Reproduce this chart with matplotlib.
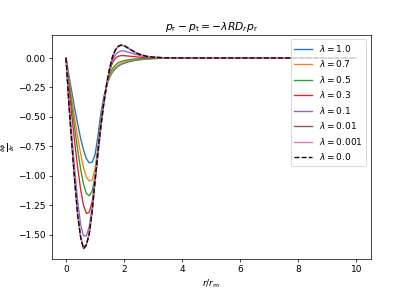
import numpy as np
import matplotlib
matplotlib.use("Agg")
import matplotlib.pyplot as plt

# r / r_m sample points (shared by every curve)
r = [0, 0.1, 0.2, 0.3, 0.4, 0.5, 0.6, 0.7, 0.8, 0.9, 1.0, 1.1, 1.2, 1.3, 1.4,
     1.5, 1.6, 1.7, 1.8, 1.9, 2.0, 2.2, 2.4, 2.6, 2.8, 3.0, 3.3, 3.6, 4.0,
     4.5, 5, 6, 7, 8, 9, 10]

lambdas = ['1.0', '0.7', '0.5', '0.3', '0.1', '0.01', '0.001']

d_10 = [0, -0.15, -0.29, -0.43, -0.56, -0.68, -0.78, -0.855, -0.89, -0.885,
        -0.82, -0.66, -0.47, -0.33, -0.23, -0.165, -0.12, -0.09, -0.07,
        -0.055, -0.045, -0.03, -0.02, -0.014, -0.009, -0.006, -0.003, -0.002,
        -0.001, 0, 0, 0, 0, 0, 0, 0]
d_07 = [0, -0.18, -0.35, -0.52, -0.67, -0.81, -0.93, -1.01, -1.045, -1.035,
        -0.94, -0.74, -0.53, -0.36, -0.24, -0.16, -0.11, -0.08, -0.06,
        -0.045, -0.035, -0.022, -0.014, -0.009, -0.006, -0.004, -0.002,
        -0.001, 0, 0, 0, 0, 0, 0, 0, 0]
d_05 = [0, -0.21, -0.41, -0.60, -0.78, -0.94, -1.07, -1.15, -1.17, -1.13,
        -1.00, -0.78, -0.55, -0.37, -0.23, -0.14, -0.09, -0.06, -0.04, -0.03,
        -0.022, -0.013, -0.008, -0.005, -0.003, -0.002, -0.001, 0, 0, 0, 0,
        0, 0, 0, 0, 0]
d_03 = [0, -0.25, -0.49, -0.72, -0.93, -1.11, -1.25, -1.32, -1.31, -1.22,
        -1.04, -0.81, -0.58, -0.38, -0.22, -0.11, -0.04, 0.0, 0.015, 0.02,
        0.02, 0.015, 0.01, 0.006, 0.004, 0.002, 0.001, 0, 0, 0, 0, 0, 0, 0,
        0, 0]
d_01 = [0, -0.36, -0.66, -0.95, -1.21, -1.41, -1.51, -1.51, -1.43, -1.27,
        -1.05, -0.82, -0.60, -0.40, -0.24, -0.11, -0.02, 0.03, 0.05, 0.06,
        0.06, 0.045, 0.03, 0.018, 0.01, 0.006, 0.003, 0.001, 0, 0, 0, 0, 0,
        0, 0, 0]
d_001 = [0, -0.40, -0.73, -1.05, -1.33, -1.51, -1.61, -1.58, -1.49, -1.30,
         -1.04, -0.79, -0.57, -0.38, -0.22, -0.09, 0.01, 0.07, 0.098, 0.107,
         0.103, 0.074, 0.045, 0.025, 0.013, 0.007, 0.003, 0.001, 0, 0, 0, 0,
         0, 0, 0, 0]
d_0001 = [0, -0.40, -0.73, -1.05, -1.33, -1.52, -1.62, -1.59, -1.49, -1.30,
          -1.04, -0.79, -0.57, -0.38, -0.22, -0.09, 0.01, 0.07, 0.10, 0.11,
          0.105, 0.075, 0.045, 0.025, 0.013, 0.007, 0.003, 0.001, 0, 0, 0,
          0, 0, 0, 0, 0]
d_0 = [0, -0.40, -0.73, -1.05, -1.33, -1.52, -1.62, -1.59, -1.49, -1.30,
       -1.04, -0.79, -0.57, -0.38, -0.22, -0.09, 0.01, 0.07, 0.10, 0.11,
       0.105, 0.075, 0.045, 0.025, 0.013, 0.007, 0.003, 0.001, 0, 0, 0, 0,
       0, 0, 0, 0]

curves = [d_10, d_07, d_05, d_03, d_01, d_001, d_0001]

fig = plt.figure(figsize=(6.4, 4.52))
ax = fig.add_subplot(111)
for lam, d in zip(lambdas, curves):
    ax.plot(r, d, label=r'$\lambda = %s$' % lam)
ax.plot(r, d_0, 'k--', label=r'$\lambda = 0.0$')

ax.set_xlabel(r'$r/r_\mathrm{m}$')
ax.set_ylabel(r'$\frac{\partial \phi}{\partial r}$', labelpad=1)
ax.set_title(r'$p_\mathrm{r} - p_\mathrm{t} = -\lambda R D_r p_\mathrm{r}$')
ax.set_xticks([0, 2, 4, 6, 8, 10])
ax.legend(loc='upper right')

fig.savefig('out.png', dpi=64.4)
